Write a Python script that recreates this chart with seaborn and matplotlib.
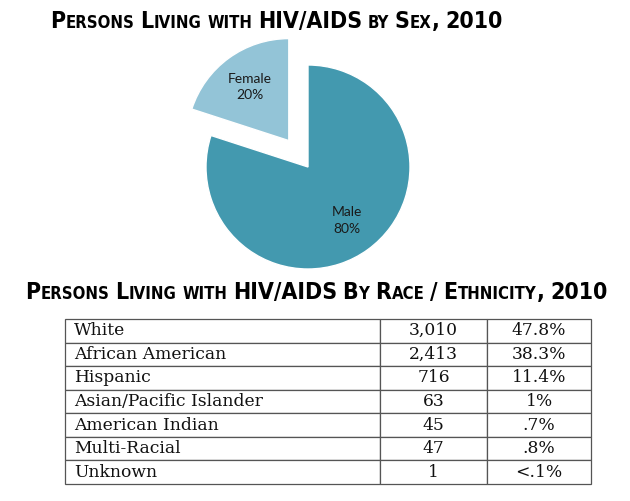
import numpy as np
import pandas as pd
import seaborn as sns
import matplotlib.pyplot as plt

# pie data
sex = ["Male", "Female"]
sex_pct = [80, 20]

# table data
groups = ["White", "African American", "Hispanic", "Asian/Pacific Islander",
          "American Indian", "Multi-Racial", "Unknown"]
counts = [3010, 2413, 716, 63, 45, 47, 1]
pct_labels = ["47.8%", "38.3%", "11.4%", "1%", ".7%", ".8%", "<.1%"]

title_sex = "Persons Living with HIV/AIDS by Sex, 2010"
title_race = "Persons Living with HIV/AIDS By Race / Ethnicity, 2010"

sns.set_theme(style="white")
plt.rcParams['font.family'] = ['DejaVu Sans']

W, H = 630, 501
fig = plt.figure(figsize=(W / 100, H / 100), dpi=100)
fig.patch.set_facecolor("white")

TITLE_FONT = ['DejaVu Sans']
TITLE_KW = dict(family=TITLE_FONT, fontweight="bold", fontstretch="condensed")


def runs_for(text):
    # split into words, each word into (string, is_big) runs for fake small caps
    words = []
    for w in text.split(" "):
        runs = []
        for ch in w:
            big = not ch.islower()
            c = ch.upper()
            if runs and runs[-1][1] == big:
                runs[-1][0] += c
            else:
                runs.append([c, big])
        words.append(runs)
    return words


def draw_smallcaps(text, x_left, y_base, size, ratio=0.72):
    renderer = fig.canvas.get_renderer()
    artists = []
    x = x_left
    space = size * 1.389 * 0.22
    for wi, runs in enumerate(runs_for(text)):
        if wi > 0:
            x += space
        for s, big in runs:
            t = fig.text(x / W, 1 - y_base / H, s, fontsize=size if big else size * ratio,
                         color="black", ha="left", va="baseline", **TITLE_KW)
            x += t.get_window_extent(renderer).width + 0.5
            artists.append(t)
    return artists, x - x_left


def title_fit(text, x_left, x_right, y_base, size0=16):
    arts, width = draw_smallcaps(text, x_left, y_base, size0)
    for a in arts:
        a.remove()
    size = size0 * (x_right - x_left) / width
    draw_smallcaps(text, x_left, y_base, size)


title_fit(title_sex, 50, 505, 28)
title_fit(title_race, 25, 610, 299)

# pie
cx, cy, r = 308, 167, 102
half = 1.5 * r
ax_pie = fig.add_axes([(cx - half) / W, (H - cy - half) / H, 2 * half / W, 2 * half / H])
colors = sns.color_palette(["#4399AF", "#93C4D7"])
labels = [f"{s}\n{p}%" for s, p in zip(sex, sex_pct)]
wedges, texts = ax_pie.pie(sex_pct, labels=labels, colors=colors, startangle=90,
                           counterclock=False, explode=[0, 0.32], labeldistance=0.65,
                           textprops=dict(fontsize=10, family=['Lato', 'DejaVu Sans'],
                                          color="#1a1a1a", linespacing=1.45))
for t in texts:
    t.set_horizontalalignment("center")
    t.set_verticalalignment("center")
ax_pie.set_xlim(-1.5, 1.5)
ax_pie.set_ylim(-1.5, 1.5)
ax_pie.set_aspect("equal")
ax_pie.axis("off")

# table
tl, tr, tt, tb = 65, 591, 319, 484
ax_tab = fig.add_axes([tl / W, (H - tb) / H, (tr - tl) / W, (tb - tt) / H])
ax_tab.axis("off")
df = pd.DataFrame({"group": groups, "count": [f"{c:,}" for c in counts], "pct": pct_labels})
col_w = [315, 107, 104]
table = ax_tab.table(cellText=df.values, colWidths=[w / sum(col_w) for w in col_w],
                     cellLoc="center", bbox=[0, 0, 1, 1])
table.auto_set_font_size(False)
table.set_fontsize(12.3)
for (row, col), cell in table.get_celld().items():
    cell.set_edgecolor("#555555")
    cell.set_linewidth(0.9)
    cell.get_text().set_fontfamily("DejaVu Serif")
    cell.get_text().set_color("#111111")
    if col == 0:
        cell.get_text().set_horizontalalignment("left")
        cell.PAD = 9 / 315

fig.savefig("out.png", dpi=100)
